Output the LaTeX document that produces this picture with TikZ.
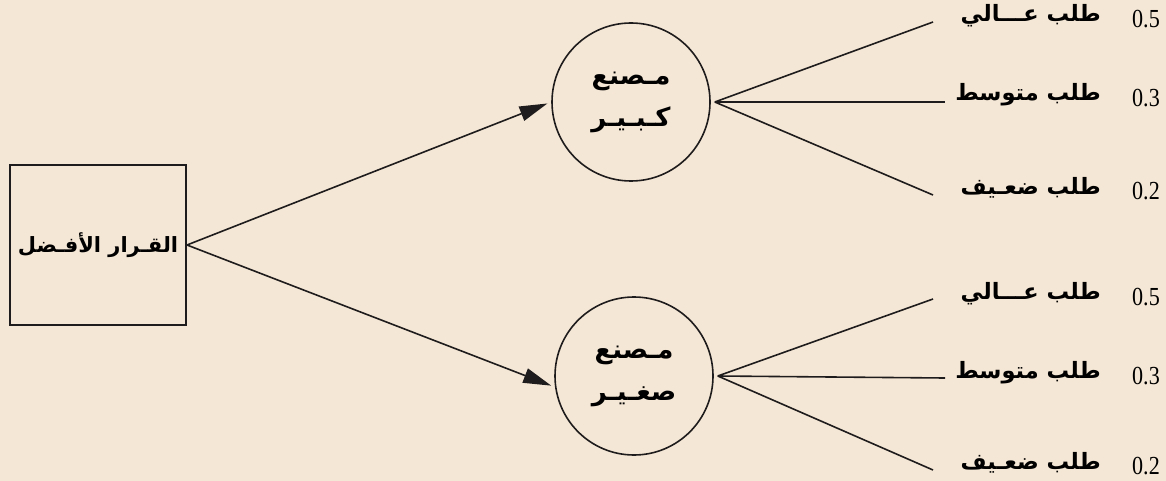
\documentclass[tikz,border=0pt]{standalone}
\usepackage{fontspec}
\setmainfont{Liberation Serif}
\newfontfamily\arabicfont[Script=Arabic]{DejaVu Sans}
\TeXXeTstate=1
\usetikzlibrary{arrows.meta,calc}
\definecolor{bgc}{RGB}{245,231,213}
\definecolor{ink}{RGB}{30,28,28}
\newcommand{\numtxt}[1]{\scalebox{0.85}[1]{#1}}
\tikzset{
  every picture/.style={x=1pt,y=-1pt},
  edge/.style={draw=ink,line width=1.6pt},
  arr/.style={edge,-{Triangle[length=28pt,width=15pt]},shorten >=4pt},
  decbox/.style={draw=ink,line width=2pt,minimum width=176pt,minimum height=160pt,inner sep=0pt},
  chance/.style={draw=ink,line width=1.6pt,circle,minimum size=158pt,inner sep=0pt,align=center,font=\arabicfont\bfseries\fontsize{26}{42}\selectfont},
  num/.style={anchor=east,inner sep=0pt,font=\fontsize{26}{28}\selectfont},
  lab/.style={anchor=east,inner sep=0pt,font=\arabicfont\bfseries\fontsize{22.5}{26}\selectfont}
}
\begin{document}
\begin{tikzpicture}
\fill[bgc] (0,0) rectangle (1166,481);
\useasboundingbox (0,0) rectangle (1166,481);

\node[decbox] (dec) at (98,245) {\arabicfont\bfseries\fontsize{21}{24}\selectfont\beginR القـرار الأفـضل\endR};
\node[chance] (big) at (631,102) {\beginR مـصنع\endR\\\beginR كـبـيـر\endR};
\node[chance] (small) at (634,376) {\beginR مـصنع\endR\\\beginR صغـيـر\endR};

\draw[arr] (dec.east) -- (big.west);
\draw[arr] (dec.east) -- (small.188);

\coordinate (ba) at ($(big.east)+(4,0)$);
\coordinate (sa) at ($(small.east)+(4,0)$);

% top group
\coordinate (b1) at (933,22);
\coordinate (b2) at (945,102);
\coordinate (b3) at (933,195);
\draw[edge] (ba) -- (b1);
\draw[edge] (ba) -- (b2);
\draw[edge] (ba) -- (b3);
\node[num] (n1) at (1160,19) {\numtxt{0.5}};
\node[num] (n2) at (1160,98) {\numtxt{0.3}};
\node[num] (n3) at (1160,191) {\numtxt{0.2}};
\node[lab] (l1) at (1101,16) {\beginR طلب عـــالي\endR};
\node[lab] (l2) at (1101,95) {\beginR طلب متوسط\endR};
\node[lab] (l3) at (1101,188) {\beginR طلب ضعـيف\endR};

% bottom group
\coordinate (s1) at (933,299);
\coordinate (s2) at (945,378);
\coordinate (s3) at (933,470);
\draw[edge] (sa) -- (s1);
\draw[edge] (sa) -- (s2);
\draw[edge] (sa) -- (s3);
\node[num] (m1) at (1160,297) {\numtxt{0.5}};
\node[num] (m2) at (1160,376) {\numtxt{0.3}};
\node[num] (m3) at (1160,466) {\numtxt{0.2}};
\node[lab] (k1) at (1101,294) {\beginR طلب عـــالي\endR};
\node[lab] (k2) at (1101,373) {\beginR طلب متوسط\endR};
\node[lab] (k3) at (1101,463) {\beginR طلب ضعـيف\endR};
\end{tikzpicture}
\end{document}
